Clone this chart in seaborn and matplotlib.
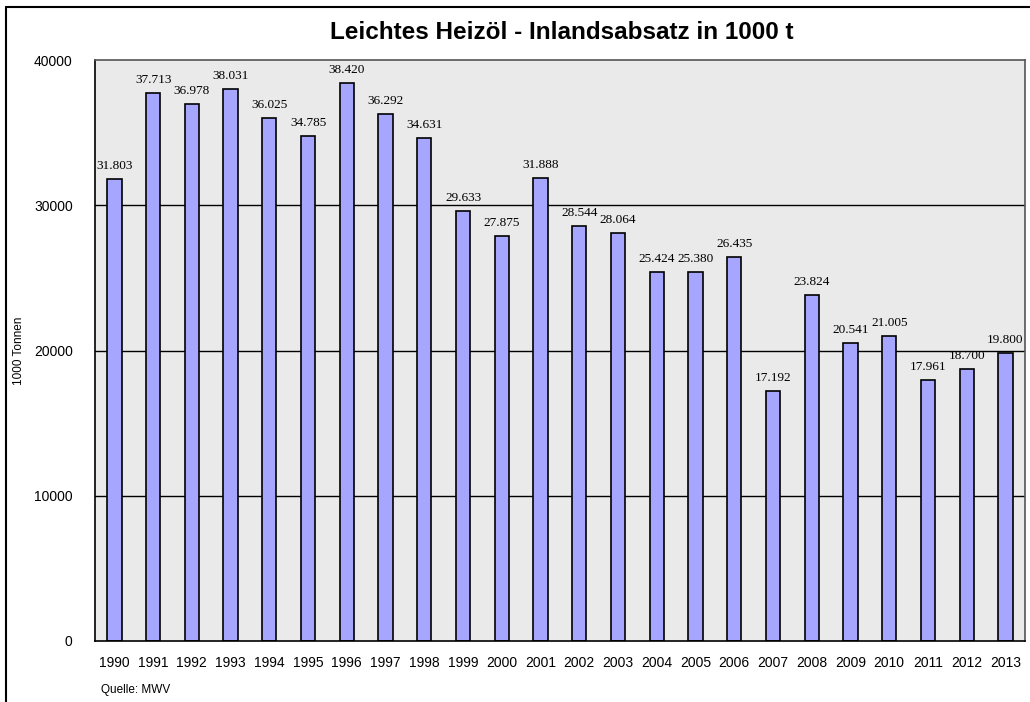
import matplotlib
matplotlib.use("Agg")
import matplotlib.pyplot as plt
from matplotlib.lines import Line2D
import seaborn as sns
import numpy as np
import pandas as pd

years = [str(y) for y in range(1990, 2014)]
absatz = [31803, 37713, 36978, 38031, 36025, 34785, 38420, 36292, 34631, 29633,
          27875, 31888, 28544, 28064, 25424, 25380, 26435, 17192, 23824, 20541,
          21005, 17961, 18700, 19800]
y_ticks = [0, 10000, 20000, 30000, 40000]

df = pd.DataFrame({"Jahr": years, "Absatz": absatz})

sns.set_style("white")
plt.rcParams['font.family'] = ['Liberation Sans', 'DejaVu Sans']
plt.rcParams.update({"text.color": "black", "axes.labelcolor": "black",
                     "xtick.color": "black", "ytick.color": "black"})

fig = plt.figure(figsize=(10.3, 7.02), dpi=100)
ax = fig.add_axes([0.0922, 0.0869, 0.9028, 0.8276])
ax.set_facecolor("#eaeaea")

# gridlines behind bars
for t in y_ticks[1:-1]:
    ax.axhline(t, color="black", lw=1, zorder=0.5)

sns.barplot(data=df, x="Jahr", y="Absatz", color="#a6a6ff", saturation=1,
            edgecolor="black", linewidth=1.2, width=0.37, ax=ax, zorder=2)

labels = [f"{v:,}".replace(",", ".") for v in absatz]
ax.bar_label(ax.containers[0], labels=labels, padding=5, color="black",
             fontfamily="Liberation Serif", fontsize=9.5)

ax.set_ylim(0, 40000)
ax.set_xlim(-0.5, len(years) - 0.5)
ax.set_yticks(y_ticks)
ax.set_yticklabels([str(t) for t in y_ticks], fontsize=10)
ax.tick_params(axis="y", direction="out", length=6, width=1, pad=10, color="black")
ax.tick_params(axis="x", which="major", length=0, labelsize=10, pad=11)
ax.set_xticks(np.arange(-0.5, len(years)), minor=True)
ax.tick_params(axis="x", which="minor", direction="out", length=5, width=1, color="black")

ax.set_xlabel("")
ax.set_ylabel("1000 Tonnen", fontsize=8.5)
ax.yaxis.set_label_coords(-0.075, 0.5)

for side in ["left", "bottom"]:
    ax.spines[side].set_color("black")
    ax.spines[side].set_linewidth(1.2)
for side in ["top", "right"]:
    ax.spines[side].set_color("#555555")
    ax.spines[side].set_linewidth(1.2)

fig.text(0.545, 0.953, "Leichtes Heizöl - Inlandsabsatz in 1000 t",
         ha="center", va="center", fontsize=17.5, fontweight="bold")
fig.text(0.098, 0.017, "Quelle: MWV", ha="left", va="center", fontsize=8.5)

# outer frame
fig.add_artist(Line2D([6 / 1030, 6 / 1030], [0, 1 - 7 / 702], color="black", lw=1.5,
                      transform=fig.transFigure))
fig.add_artist(Line2D([6 / 1030, 1], [1 - 7 / 702, 1 - 7 / 702], color="black", lw=1.5,
                      transform=fig.transFigure))

fig.savefig("out.png", dpi=100)
